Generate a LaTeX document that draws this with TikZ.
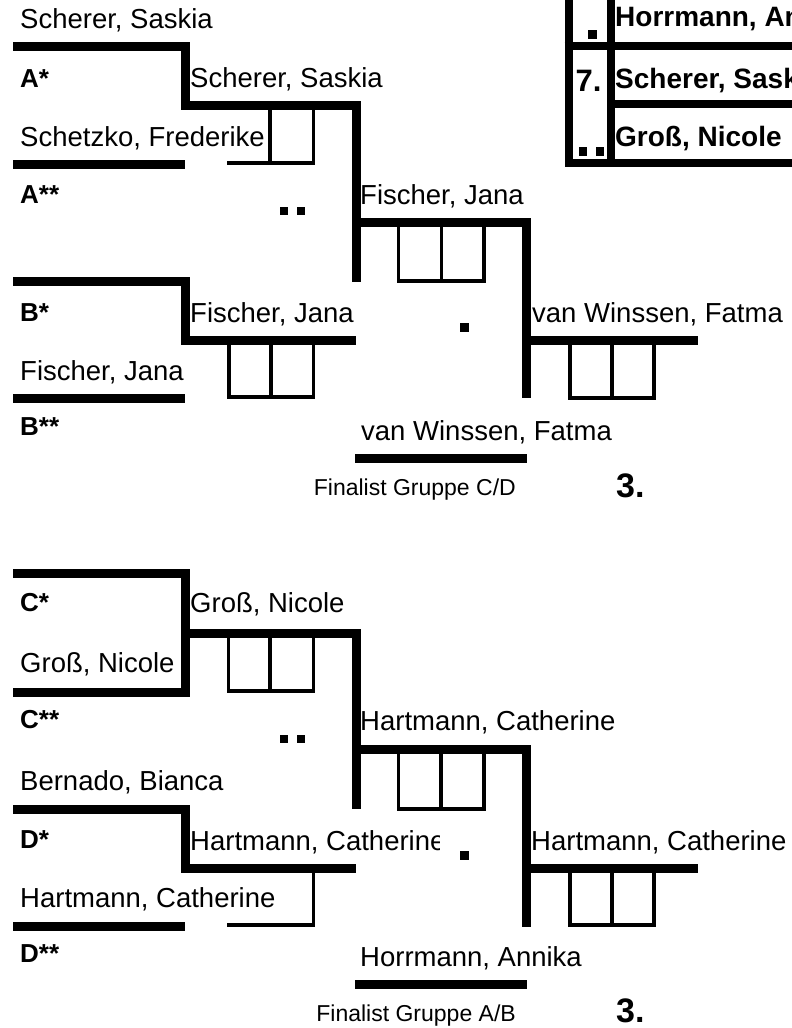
\documentclass[tikz,border=0pt]{standalone}
\usepackage{fontspec}
\setmainfont{Liberation Sans}
\begin{document}
\begin{tikzpicture}[x=1pt,y=-1pt,
  thk/.style={line width=9pt},
  thn/.style={line width=3.5pt},
  tb/.style={line width=8pt},
  nm/.style={anchor=base west,inner sep=0pt,font=\fontsize{27.5}{30}\selectfont},
  lb/.style={anchor=base west,inner sep=0pt,font=\bfseries\fontsize{26}{30}\selectfont},
  tt/.style={anchor=base west,inner sep=0pt,font=\bfseries\fontsize{28}{30}\selectfont},
  sm/.style={anchor=base east,inner sep=0pt,font=\fontsize{23}{26}\selectfont},
  big/.style={anchor=base west,inner sep=0pt,font=\bfseries\fontsize{34}{36}\selectfont},
  sq/.style={fill=black}
]
\useasboundingbox (0,0) rectangle (792,1028);
\fill[white] (0,0) rectangle (792,1028);
\begin{scope}
\clip (0,0) rectangle (792,1028);

% ===== top-right table =====
\draw[tb] (568.5,-10) -- (568.5,162.5) -- (800,162.5);
\draw[tb] (611,-10) -- (611,162.5);
\draw[tb] (564.5,46) -- (800,46);
\draw[tb] (611,103.5) -- (800,103.5);
\fill[sq] (588,30) rectangle (597,39);
\fill[sq] (579,147) rectangle (587,156);
\fill[sq] (596,147) rectangle (604,156);
\node[big,font=\bfseries\fontsize{31}{33}\selectfont] (t7) at (575.5,91) {7.};
\node[tt] (t1) at (615,26) {Horrmann, Annika};
\node[tt] (t2) at (615,88) {Scherer, Saskia};
\node[tt] (t3) at (615,146) {Groß, Nicole};

% ===== group A/B (top) =====
\draw[thk] (13,46) -- (185,46) -- (185,105) -- (356,105) -- (356,282);
\draw[thk] (13,164) -- (185,164);
\draw[thk] (356,222) -- (526,222) -- (526,398);
\draw[thk] (13,281) -- (185,281) -- (185,340) -- (356,340);
\draw[thk] (13,398) -- (185,398);
\draw[thk] (526,340) -- (698,340);
\draw[thk] (355,458) -- (527,458);

\draw[thn] (227,163) -- (313.5,163) -- (313.5,105);
\draw[thn] (270,105) -- (270,163);
\draw[thn] (398.5,222) rectangle (484,281);
\draw[thn] (441.5,222) -- (441.5,281);
\draw[thn] (229,340) rectangle (313.5,397);
\draw[thn] (271,340) -- (271,397);
\draw[thn] (570,340) rectangle (654,398);
\draw[thn] (612,340) -- (612,398);

\fill[sq] (280,207) rectangle (288,215);
\fill[sq] (297,207) rectangle (305,215);
\fill[sq] (460,323) rectangle (469,332);

\node[nm] (n1) at (20,28) {Scherer, Saskia};
\node[lb] (la1) at (20,87) {A*};
\node[nm] (n2) at (190,87) {Scherer, Saskia};
\node[nm] (n3) at (20,146) {Schetzko, Frederike};
\node[lb] (la2) at (20,203) {A**};
\node[nm] (n4) at (360,204) {Fischer, Jana};
\node[lb] (lb1) at (20,321) {B*};
\node[nm] (n5) at (190,322) {Fischer, Jana};
\node[nm] (n6) at (532,322) {van Winssen, Fatma};
\node[nm] (n7) at (20,380) {Fischer, Jana};
\node[lb] (lb2) at (20,435) {B**};
\node[nm] (n8) at (361,440) {van Winssen, Fatma};
\node[sm] (f1) at (516,495) {Finalist Gruppe C/D};
\node[big] (p1) at (616,497) {3.};

% ===== group C/D (bottom) =====
\draw[thk] (13,573.5) -- (185,573.5) -- (185,692) -- (13,692);
\draw[thk] (185,633) -- (356,633) -- (356,809);
\draw[thk] (356,749) -- (526,749) -- (526,927);
\draw[thk] (13,809.5) -- (185,809.5) -- (185,868) -- (356,868);
\draw[thk] (13,926.5) -- (185,926.5);
\draw[thk] (526,868) -- (698,868);
\draw[thk] (355,984.5) -- (527,984.5);

\draw[thn] (228.5,633) rectangle (313.5,691);
\draw[thn] (270,633) -- (270,691);
\draw[thn] (398.5,749) rectangle (484,809);
\draw[thn] (441,749) -- (441,809);
\draw[thn] (227,925) -- (313.5,925) -- (313.5,868);
\draw[thn] (570,868) rectangle (654,925);
\draw[thn] (612,868) -- (612,925);

\fill[sq] (280,735) rectangle (288,743);
\fill[sq] (297,735) rectangle (305,743);
\fill[sq] (460,851) rectangle (469,860);

\node[lb] (lc1) at (20,611) {C*};
\node[nm] (m1) at (190,612) {Groß, Nicole};
\node[nm] (m2) at (20,672) {Groß, Nicole};
\node[lb] (lc2) at (20,728) {C**};
\node[nm] (m3) at (360,730) {Hartmann, Catherine};
\node[nm] (m4) at (20,790) {Bernado, Bianca};
\node[lb] (ld1) at (20,848) {D*};
\begin{scope}
\clip (180,800) rectangle (439.5,880);
\node[nm] (m5) at (190,850) {Hartmann, Catherine};
\end{scope}
\node[nm] (m6) at (531,850) {Hartmann, Catherine};
\node[nm] (m7) at (20,907) {Hartmann, Catherine};
\node[lb] (ld2) at (20,962) {D**};
\node[nm] (m8) at (360,966) {Horrmann, Annika};
\node[sm] (f2) at (516,1021) {Finalist Gruppe A/B};
\node[big] (p2) at (616,1022) {3.};
\end{scope}
\end{tikzpicture}
\end{document}
